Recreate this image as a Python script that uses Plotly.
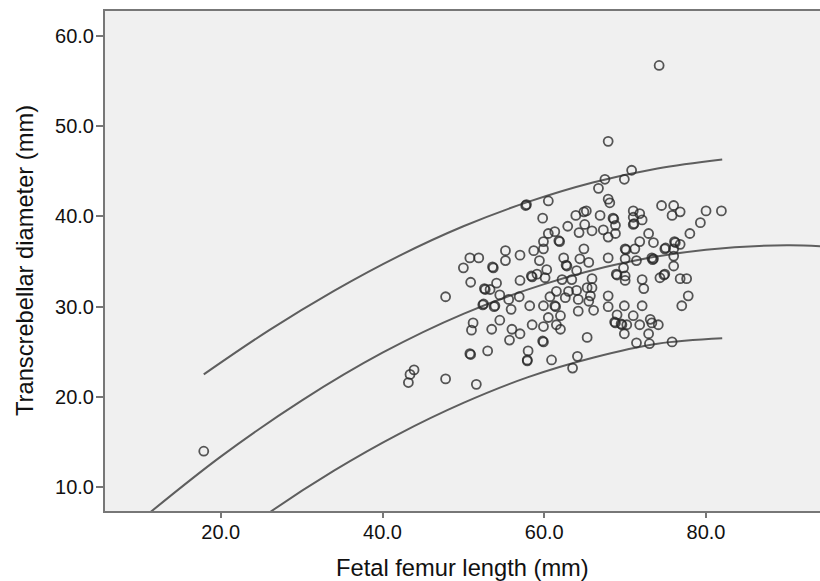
import plotly.graph_objects as go

# Scatter data (Fetal femur length vs Transcerebellar diameter)
femur_length = [
    74.2, 67.9,
    17.9, 47.8, 43.9, 43.4, 43.2, 47.8,
    50.8, 50.9, 53.0, 58.0, 57.9, 57.9, 60.9, 64.1, 63.5, 51.6,
    57.8, 57.7, 60.5, 59.8, 63.9, 64.9, 65.2, 62.9, 60.5, 61.3, 65.0, 64.3, 61.9, 61.8,
    59.9, 55.2, 57.0, 58.7, 59.9, 50.8, 51.9, 64.9, 62.4,
    53.7, 53.6, 50.0, 55.2, 59.4, 57.0, 58.5, 58.4, 59.1, 60.3, 60.1, 62.8, 62.7, 64.0,
    64.4, 65.5, 63.4, 62.2, 50.9, 52.7, 52.6, 53.3, 54.1, 52.5, 52.4, 53.9, 53.8, 54.5,
    55.6, 56.9, 58.2, 59.9, 55.9, 60.7, 61.3, 61.4, 61.5, 63.0, 62.6, 64.0, 65.3, 64.2,
    65.5, 62.0, 64.2, 60.5, 61.5, 59.9, 58.5, 62.0, 51.2, 51.0, 53.5, 56.0, 57.0, 54.5,
    55.7, 59.9, 59.8, 65.3,
    70.8, 67.5, 69.9, 66.7, 67.9, 68.1, 66.9, 71.0, 71.8, 71.0, 71.0, 71.1, 72.1, 68.5,
    68.6, 68.8, 65.9, 67.3, 67.9, 68.8, 72.9, 73.5, 71.8, 74.5, 76.0, 76.8, 75.8, 80.0,
    81.9, 79.3, 78.0, 74.9, 75.0, 76.2, 76.1, 76.8, 76.0, 70.0, 70.1, 71.2, 73.3,
    67.9, 70.0, 71.4, 73.5, 73.4, 76.0, 76.0, 69.8, 70.0, 69.0, 68.9, 70.0, 65.9, 65.9,
    72.1, 72.3, 74.3, 74.9, 74.8, 76.8, 77.6, 65.7, 67.9, 77.8, 67.9, 69.9, 72.1, 77.0,
    66.1, 69.0, 71.0, 68.8, 68.7, 69.6, 69.5, 70.2, 71.8, 73.1, 73.3, 74.1, 72.9, 69.9,
    71.4, 73.0, 75.8,
]
tcd = [
    56.7, 48.3,
    14.0, 31.1, 23.0, 22.5, 21.6, 22.0,
    24.8, 24.7, 25.1, 25.1, 24.1, 24.0, 24.1, 24.5, 23.2, 21.4,
    41.3, 41.2, 41.7, 39.8, 40.1, 40.5, 40.6, 38.9, 38.1, 38.3, 39.1, 38.2, 37.2, 37.3,
    37.2, 36.2, 35.7, 36.2, 36.4, 35.4, 35.4, 36.4, 35.4,
    34.3, 34.4, 34.3, 35.1, 35.1, 32.9, 33.3, 33.4, 33.6, 34.1, 33.2, 34.5, 34.6, 34.0,
    35.3, 34.9, 33.0, 33.0, 32.7, 31.9, 32.0, 31.9, 32.6, 30.3, 30.2, 30.1, 30.0, 31.3,
    30.8, 31.1, 30.1, 30.1, 29.7, 31.1, 30.1, 30.0, 31.7, 31.7, 31.0, 31.8, 32.1, 30.8,
    30.6, 29.0, 29.5, 28.8, 28.0, 27.8, 28.0, 27.5, 28.2, 27.4, 27.5, 27.5, 27.0, 28.5,
    26.3, 26.1, 26.2, 26.6,
    45.1, 44.1, 44.1, 43.1, 41.9, 41.5, 40.1, 40.6, 40.3, 39.9, 39.1, 39.2, 39.6, 39.8,
    39.7, 39.0, 38.4, 38.5, 37.7, 38.1, 38.1, 37.1, 37.2, 41.2, 41.2, 40.5, 40.1, 40.6,
    40.6, 39.3, 38.1, 36.4, 36.5, 37.1, 37.2, 36.9, 36.4, 36.4, 36.3, 36.4, 35.4,
    35.4, 35.3, 35.1, 35.3, 35.2, 35.6, 34.5, 34.3, 33.4, 33.5, 33.6, 32.9, 33.1, 32.1,
    33.0, 32.0, 33.2, 33.6, 33.5, 33.1, 33.1, 31.2, 31.2, 31.2, 30.0, 30.1, 30.1, 30.1,
    29.6, 29.1, 29.0, 28.2, 28.3, 28.0, 28.1, 28.0, 28.0, 28.6, 28.2, 28.0, 27.0, 27.0,
    26.0, 25.9, 26.1,
]

# Fitted curve and prediction limits
fit_x = [10, 20, 30, 40, 50, 60, 70, 80, 90, 96]
fit_y = [6.3, 13.4, 19.6, 24.9, 29.2, 32.5, 34.9, 36.3, 36.8, 36.6]
upper_x = [17.9, 26, 34, 42, 50, 58, 66, 74, 82]
upper_y = [22.5, 27.4, 31.75, 35.6, 38.9, 41.6, 43.75, 45.3, 46.3]
lower_x = [17.9, 26, 34, 42, 50, 58, 66, 74, 82]
lower_y = [1.8, 7.2, 11.85, 15.9, 19.35, 22.2, 24.35, 25.9, 26.5]

x_ticks = [20, 40, 60, 80]
y_ticks = [10, 20, 30, 40, 50, 60]
x_title = "Fetal femur length (mm)"
y_title = "Transcrebellar diameter (mm)"

line_color = "#5e5e5e"
fig = go.Figure()
for cx, cy in [(fit_x, fit_y), (upper_x, upper_y), (lower_x, lower_y)]:
    fig.add_trace(go.Scatter(
        x=cx, y=cy, mode="lines", line=dict(color=line_color, width=2, shape="spline"),
        hoverinfo="skip", showlegend=False))

fig.add_trace(go.Scatter(
    x=femur_length, y=tcd, mode="markers",
    marker=dict(symbol="circle-open", size=9, color="rgba(40,40,40,0.78)",
                line=dict(width=1.8)),
    showlegend=False))

font_family = "Liberation Sans, Arial, sans-serif"
title_font = dict(size=23.7, family=font_family, color="#111111")
fig.update_layout(
    width=820, height=581,
    margin=dict(l=105, r=0, t=11, b=70, autoexpand=False),
    paper_bgcolor="white", plot_bgcolor="#f0f0f0",
    font=dict(family=font_family, color="#111111"),
    xaxis=dict(
        range=[5.69, 94.09], tickvals=x_ticks, ticktext=[f"{v:.1f}" for v in x_ticks],
        showgrid=False, zeroline=False, showline=True, linecolor="#777777", linewidth=2,
        mirror=True, ticks="outside", ticklen=5, tickwidth=2, tickcolor="#777777",
        ticklabelstandoff=-3, automargin=False,
        tickfont=dict(size=20, family=font_family, color="#111111"),
    ),
    yaxis=dict(
        range=[7.38, 62.73], tickvals=y_ticks, ticktext=[f"{v:.1f}" for v in y_ticks],
        showgrid=False, zeroline=False, showline=True, linecolor="#777777", linewidth=2,
        ticks="outside", ticklen=7, tickwidth=2, tickcolor="#777777",
        ticklabelstandoff=-2, automargin=False,
        tickfont=dict(size=20, family=font_family, color="#111111"),
    ),
    annotations=[
        dict(text=x_title, xref="paper", yref="paper", x=0.5, y=0, xanchor="center",
             yanchor="middle", yshift=-57, showarrow=False, font=title_font),
        dict(text=y_title, xref="paper", yref="paper", x=0, y=0.5, xanchor="center",
             yanchor="middle", xshift=-80, textangle=-90, showarrow=False, font=title_font),
    ],
)

# remove the default page margin so the figure fills the 820x581 window exactly
fig.write_html(
    "out.html",
    config={"displayModeBar": False},
    post_script="document.body.style.margin='0';"
                "document.documentElement.style.overflow='hidden';"
                "document.body.style.overflow='hidden';",
)
